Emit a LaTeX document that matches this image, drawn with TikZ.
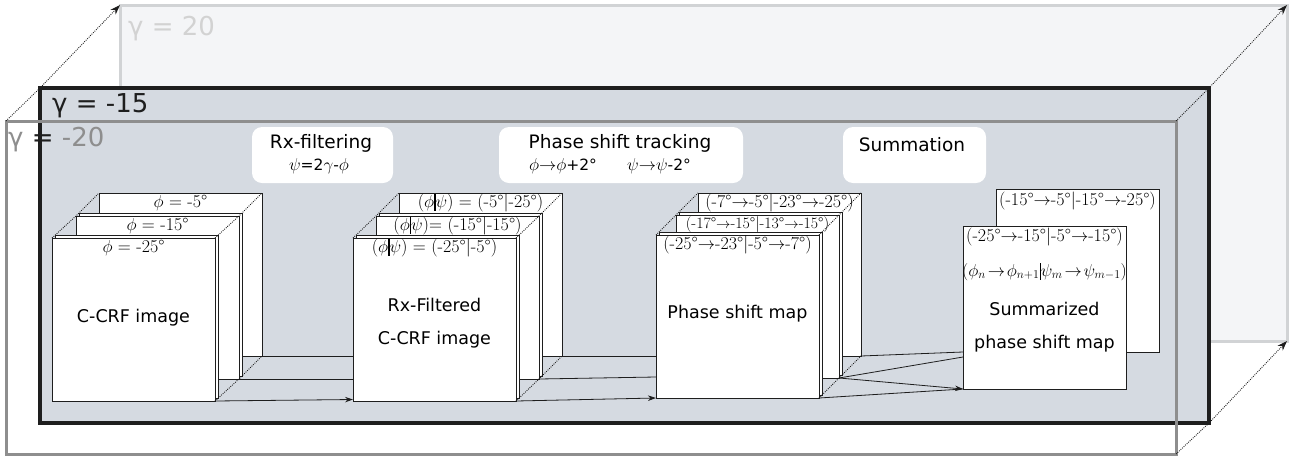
\documentclass[tikz,border=0pt]{standalone}
\usepackage{fontspec}
\setsansfont{DejaVu Sans}
\usetikzlibrary{arrows.meta}
\definecolor{fifteen}{HTML}{D5DAE1}
\definecolor{twentyfill}{HTML}{F4F5F7}
\definecolor{twentyline}{HTML}{D1D3D5}
\definecolor{twentytext}{HTML}{D2D2D2}
\definecolor{mtwenty}{HTML}{8E8E8E}
\definecolor{ink}{HTML}{1E1E1E}
\newcommand{\myvbar}{\rule[-0.2em]{1.3pt}{0.95em}}
\begin{document}
\begin{tikzpicture}[x=1pt,y=-1pt,
 frame/.style={rectangle,inner sep=0pt,outer sep=0pt,anchor=north west},
 sheet/.style={rectangle,draw=ink,fill=white,line width=0.8pt,minimum width=163pt,minimum height=163pt,inner sep=0pt,outer sep=0pt,anchor=north west},
 lbl/.style={font=\fontsize{18}{21}\selectfont,anchor=base,inner sep=0pt},
 stxt/.style={font=\sffamily\fontsize{17.5}{21}\selectfont,anchor=base,inner sep=0pt},
 htxt/.style={font=\sffamily\fontsize{18.5}{22}\selectfont,anchor=base,inner sep=0pt},
 hbox/.style={rectangle,fill=white,rounded corners=10pt,inner sep=0pt,outer sep=0pt,anchor=north west,minimum height=56pt},
 gtxt/.style={font=\sffamily\fontsize{26}{30}\selectfont,anchor=base west,inner sep=0pt},
 dots/.style={draw=ink,line width=0.9pt,dash pattern=on 0.9pt off 1.2pt},
 darr/.style={dots,-{Stealth[length=10pt,width=7pt]}},
 conn/.style={draw=ink,line width=0.8pt},
 arr/.style={conn,-{Stealth[length=8pt,width=5.5pt]}}]
\useasboundingbox (0,0) rectangle (1291,456);

% frames
\node[frame,fill=twentyfill,draw=twentyline,line width=3pt,minimum width=1167pt,minimum height=336pt] (g20) at (120,5) {};
\node[gtxt,text=twentytext] (t20) at (128,35) {γ = 20};
\node[frame,fill=fifteen,draw=ink,line width=4pt,minimum width=1169pt,minimum height=335pt] (g15) at (40,88) {};
\node[gtxt,text=ink] (t15) at (52,112) {γ = -15};
\node[frame,draw=mtwenty,line width=3pt,minimum width=1170pt,minimum height=333pt] (gm20) at (6,121) {};
\node[gtxt,text=mtwenty] (tm20) at (8,146) {γ \textcolor{ink}{=} -20};

\draw[darr] (gm20.north west) -- (g15.north west) -- (g20.north west);
\draw[darr] (gm20.north east) -- (g15.north east) -- (g20.north east);
\draw[darr] (gm20.south east) -- (g15.south east) -- (g20.south east);

% header boxes
\node[hbox,minimum width=141pt] (h1) at (252,127) {};
\node[htxt] (h1a) at (321,148) {Rx-filtering};
\node[lbl] (h1b) at (319,170) {$\psi${\sffamily\fontsize{15.5}{18}\selectfont=2}$\gamma${\sffamily\fontsize{15.5}{18}\selectfont-}$\phi$};
\node[hbox,minimum width=244pt] (h2) at (499,127) {};
\node[htxt] (h2a) at (620,148) {Phase shift tracking};
\node[lbl] (h2b) at (563,170) {$\phi{\to}\phi${\sffamily\fontsize{15.5}{18}\selectfont+2°}};
\node[lbl] (h2c) at (659,170) {$\psi{\to}\psi${\sffamily\fontsize{15.5}{18}\selectfont-2°}};
\node[hbox,minimum width=143pt] (h3) at (843,127) {};
\node[htxt] (h3a) at (912,151) {Summation};

% stack A
\node[sheet] (a3) at (99,193) {};
\node[sheet] (a2b) at (79,213) {};
\node[sheet] (a2) at (76,216) {};
\node[sheet] (a1b) at (55,235) {};
\node[sheet] (a1) at (52,238) {};
\node[lbl] (a3t) at (180.5,207) {$\phi$ = -5°};
\node[lbl] (a2t) at (157.5,230) {$\phi$ = -15°};
\node[lbl] (a1t) at (133.5,252) {$\phi$ = -25°};
\node[stxt] (a1m) at (133.5,322) {C-CRF image};

% stack B
\node[sheet] (b3) at (399,193) {};
\node[sheet] (b2b) at (379,213) {};
\node[sheet] (b2) at (376,216) {};
\node[sheet] (b1b) at (356,235) {};
\node[sheet] (b1) at (353,238) {};
\node[lbl] (b3t) at (480.5,207) {($\phi$\myvbar$\psi$) = (-5°|-25°)};
\node[lbl] (b2t) at (457.5,230) {($\phi$\myvbar$\psi$)= (-15°|-15°)};
\node[lbl] (b1t) at (434.5,252) {($\phi$\myvbar$\psi$) = (-25°|-5°)};
\node[stxt] (b1m) at (434.5,311) {Rx-Filtered};
\node[stxt] (b1n) at (434.5,344) {C-CRF image};

% stack C
\node[sheet] (c3) at (698,193) {};
\node[sheet] (c2b) at (679,212) {};
\node[sheet] (c2) at (676,215) {};
\node[sheet] (c1b) at (659,232) {};
\node[sheet] (c1) at (656,235) {};
\node[lbl] (c3t) at (779.5,207) {(-7°$\to$-5°|-23°$\to$-25°)};
\node[lbl,font=\fontsize{15.8}{18}\selectfont] (c2t) at (757.5,228) {(-17°$\to$-15°|-13°$\to$-15°)};
\node[lbl] (c1t) at (737.5,249) {(-25°$\to$-23°|-5°$\to$-7°)};
\node[stxt] (c1m) at (737.5,318) {Phase shift map};

% summarized
\node[sheet] (d2) at (996,189) {};
\node[sheet] (d1) at (963,226) {};
\node[lbl] (d2t) at (1077.5,205) {(-15°$\to$-5°|-15°$\to$-25°)};
\node[lbl] (d1t) at (1044.5,241) {(-25°$\to$-15°|-5°$\to$-15°)};
\node[lbl] (d1f) at (1044.5,276) {$(\phi_n\!\to\!\phi_{n+1}$\myvbar$\psi_m\!\to\!\psi_{m-1})$};
\node[stxt] (d1m) at (1044.5,315) {Summarized};
\node[stxt] (d1n) at (1044.5,348) {phase shift map};

% dotted depth lines
\foreach \s in {a,b,c}{
  \draw[dots] (\s1.north west) -- (\s2.north west) -- (\s3.north west);
  \draw[dots] (\s1.north east) -- (\s2.north east) -- (\s3.north east);
  \draw[dots] (\s1.south east) -- (\s2.south east) -- (\s3.south east);
}

% connectors
\draw[conn] (a3.south east) -- (a3.south east -| b1.west);
\draw[conn] (a2.south east) -- (a2.south east -| b1.west);
\draw[arr] (a1.south east) -- ([yshift=1.5pt]b1.south west);
\draw[conn] (b3.south east) -- (b3.south east -| c1.west);
\draw[conn] (b2.south east) -- ([yshift=2pt]b2.south east -| c1.west);
\draw[arr] (b1.south east) -- (c1.south west);
\draw[conn] (c3.south east) -- (d2.south west -| d1.west);
\draw[conn] (c2.south east) -- ([yshift=-5pt]d2.south west -| d1.west);
\draw[arr] (c2.south east) -- (d1.south west);
\draw[conn] (c1.south east) -- (d1.south west);
\end{tikzpicture}
\end{document}
